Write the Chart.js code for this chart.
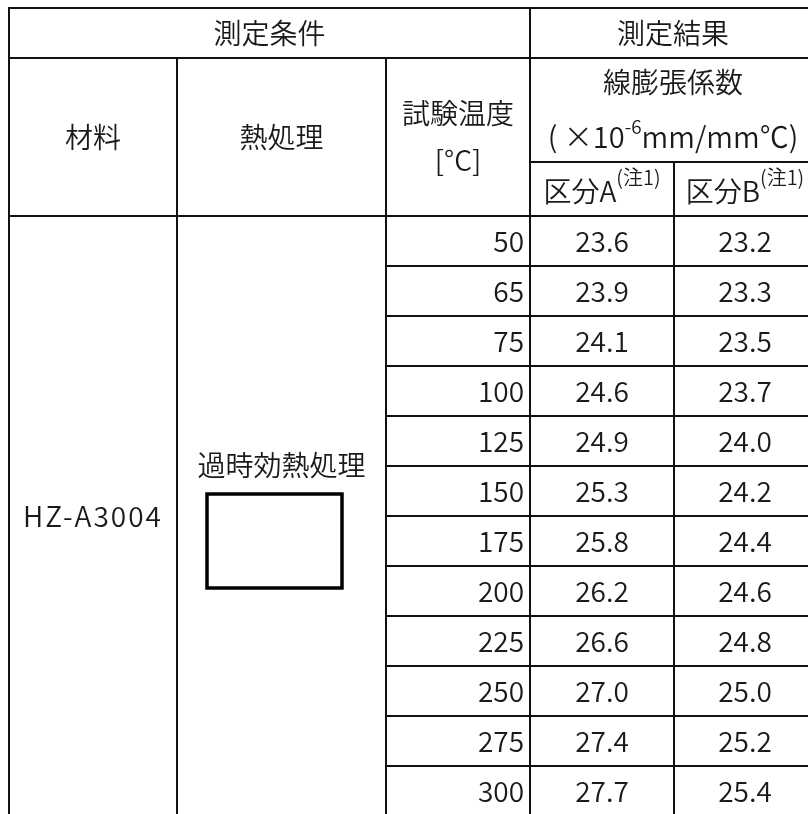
<!DOCTYPE html>
<html>
<head>
<meta charset="utf-8">
<script src="https://cdn.jsdelivr.net/npm/chart.js@4"></script>
<style>
  body { margin: 0; background: #fff; }
  #wrap { width: 808px; height: 814px; }
</style>
</head>
<body>
<div id="wrap"><canvas id="myChart" width="808" height="814"></canvas></div>
<script>
const material = "HZ-A3004";
const treatment = "過時効熱処理";
const temps = [50, 65, 75, 100, 125, 150, 175, 200, 225, 250, 275, 300];
const divA = [23.6, 23.9, 24.1, 24.6, 24.9, 25.3, 25.8, 26.2, 26.6, 27.0, 27.4, 27.7];
const divB = [23.2, 23.3, 23.5, 23.7, 24.0, 24.2, 24.4, 24.6, 24.8, 25.0, 25.2, 25.4];

// table layout in canvas units (mapped through the x / y scales)
const colEdges = [9, 177, 386, 530, 674, 816];
const headTop = 8, headRow1 = 58, headRow2 = 162, bodyTop = 216, rowH = 50;
const FONT = "'Noto Sans CJK JP', 'Noto Sans', sans-serif";
const W = "350 ";
const INK = "#1a1a1a";

const rowMid = (i) => bodyTop + rowH * i + rowH / 2;
const colMid = (c) => (colEdges[c] + colEdges[c + 1]) / 2;

const tablePlugin = {
  id: "table",
  afterDatasetsDraw(chart) {
    const { ctx } = chart;
    const xs = chart.scales.x, ys = chart.scales.y;
    const X = (v) => xs.getPixelForValue(v);
    const Y = (v) => ys.getPixelForValue(v);
    const bottom = 814;

    ctx.save();
    ctx.strokeStyle = "#111";
    ctx.lineWidth = 2;
    const hline = (y, x0, x1) => { ctx.beginPath(); ctx.moveTo(X(x0), Y(y)); ctx.lineTo(X(x1), Y(y)); ctx.stroke(); };
    const vline = (x, y0, y1) => { ctx.beginPath(); ctx.moveTo(X(x), Y(y0)); ctx.lineTo(X(x), Y(y1)); ctx.stroke(); };

    hline(headTop, colEdges[0] - 1, colEdges[5]);
    hline(headRow1, colEdges[0], colEdges[5]);
    hline(headRow2, colEdges[3], colEdges[5]);
    hline(bodyTop, colEdges[0], colEdges[5]);
    temps.forEach((t, i) => {
      if (i > 0) hline(bodyTop + rowH * i, colEdges[2], colEdges[5]);
    });
    vline(colEdges[0], headTop, bottom);
    vline(colEdges[1], headRow1, bottom);
    vline(colEdges[2], headRow1, bottom);
    vline(colEdges[3], headTop, bottom);
    vline(colEdges[4], headRow2, bottom);
    vline(colEdges[5], headTop, bottom);

    // text
    ctx.fillStyle = INK;
    ctx.textBaseline = "middle";
    ctx.textAlign = "center";
    ctx.font = W + "28px " + FONT;
    const txt = (s, x, y, align) => { ctx.textAlign = align || "center"; ctx.fillText(s, X(x), Y(y)); };

    txt("測定条件", (colEdges[0] + colEdges[3]) / 2, 33);
    txt("測定結果", (colEdges[3] + colEdges[5]) / 2, 33);
    txt("材料", colMid(0), 137);
    txt("熱処理", colMid(1), 137);
    txt("試験温度", colMid(2), 113);
    txt("[°C]", colMid(2), 160);
    txt("線膨張係数", (colEdges[3] + colEdges[5]) / 2, 82);

    // (×10^-6 mm/mm℃) with superscript
    const parts = [["( ×10", 29, 0], ["-6", 19, -10], ["mm/mm℃)", 29, 0]];
    let total = 0;
    parts.forEach(p => { ctx.font = W + p[1] + "px " + FONT; total += ctx.measureText(p[0]).width; });
    let px = X((colEdges[3] + colEdges[5]) / 2) - total / 2;
    ctx.textAlign = "left";
    parts.forEach(p => {
      ctx.font = W + p[1] + "px " + FONT;
      ctx.fillText(p[0], px, Y(137) + p[2]);
      px += ctx.measureText(p[0]).width;
    });

    // 区分A / 区分B with (注1)
    ["区分A", "区分B"].forEach((s, k) => {
      ctx.font = W + "28px " + FONT;
      const w1 = ctx.measureText(s).width;
      ctx.font = W + "20px " + FONT;
      const w2 = ctx.measureText("(注1)").width;
      let sx = X(colMid(3 + k)) - (w1 + w2) / 2;
      ctx.textAlign = "left";
      ctx.font = W + "28px " + FONT;
      ctx.fillText(s, sx, Y(191));
      ctx.font = W + "20px " + FONT;
      ctx.fillText("(注1)", sx + w1, Y(177));
    });

    ctx.font = W + "28px " + FONT;
    ctx.letterSpacing = "2px";
    txt(material, colMid(0), rowMid(5) + 25);
    ctx.letterSpacing = "0px";
    txt(treatment, colMid(1), 465);

    // data cells from dataset elements
    chart.data.datasets.forEach((ds, di) => {
      const meta = chart.getDatasetMeta(di);
      meta.data.forEach((el, i) => {
        ctx.textAlign = ds.align;
        ctx.fillText(ds.labels[i], el.x, el.y);
      });
    });

    // empty box under treatment label
    ctx.lineWidth = 3.5;
    ctx.strokeStyle = "#000";
    ctx.strokeRect(X(207), Y(494), X(342) - X(207), Y(588) - Y(494));
    ctx.restore();
  }
};

new Chart(document.getElementById("myChart"), {
  type: "scatter",
  data: {
    datasets: [
      {
        label: "試験温度",
        data: temps.map((t, i) => ({ x: colEdges[3] - 6, y: rowMid(i) })),
        labels: temps.map(String),
        align: "right",
        pointRadius: 0,
      },
      {
        label: "区分A",
        data: divA.map((v, i) => ({ x: colMid(3), y: rowMid(i) })),
        labels: divA.map(v => v.toFixed(1)),
        align: "center",
        pointRadius: 0,
      },
      {
        label: "区分B",
        data: divB.map((v, i) => ({ x: colMid(4), y: rowMid(i) })),
        labels: divB.map(v => v.toFixed(1)),
        align: "center",
        pointRadius: 0,
      },
    ],
  },
  options: {
    responsive: false,
    animation: false,
    layout: { padding: 0 },
    scales: {
      x: { type: "linear", min: 0, max: 808, display: false },
      y: { type: "linear", min: 0, max: 814, reverse: true, display: false },
    },
    plugins: {
      legend: { display: false },
      tooltip: { enabled: false },
    },
  },
  plugins: [tablePlugin],
});
</script>
</body>
</html>
